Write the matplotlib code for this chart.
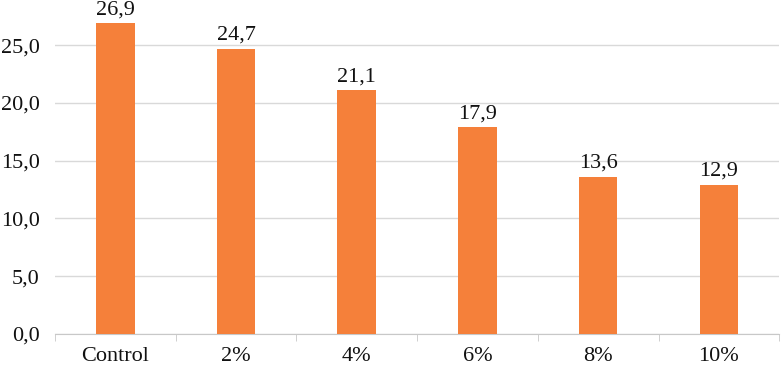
import matplotlib
matplotlib.use('agg')
import matplotlib.pyplot as plt
import numpy as np

categories = ["Control", "2%", "4%", "6%", "8%", "10%"]
values = [26.9, 24.7, 21.1, 17.9, 13.6, 12.9]
y_ticks = [0, 5, 10, 15, 20, 25]

plt.rcParams['font.family'] = ['Liberation Serif', 'DejaVu Serif']

fig = plt.figure(figsize=(7.83, 3.66), dpi=100)
ax = fig.add_axes([0.0702, 0.0874, 0.925, 0.9126])

x = np.arange(len(categories))
bars = ax.bar(x, values, width=0.32, color='#F5803A', zorder=3)
for xi, v in zip(x, values):
    ax.text(xi, v + 0.35, f"{v:.1f}".replace('.', ','), ha='center', va='bottom',
            fontsize=16, color='#111111', clip_on=False)

ax.set_xlim(-0.5, len(categories) - 0.5)
ax.set_ylim(0, 28.9)
ax.set_yticks(y_ticks)
ax.set_yticklabels([f"{t:.1f}".replace('.', ',') for t in y_ticks])
ax.set_xticks(x)
ax.set_xticklabels(categories)
ax.set_xticks(np.arange(len(categories) + 1) - 0.5, minor=True)

ax.grid(axis='y', color='#d9d9d9', linewidth=1, zorder=0)
for s in ['top', 'right', 'left']:
    ax.spines[s].set_visible(False)
ax.spines['bottom'].set_color('#c8c8c8')
ax.tick_params(axis='y', length=0, labelsize=16, pad=11, labelcolor='#111111')
ax.tick_params(axis='x', which='major', length=0, labelsize=16, pad=9, labelcolor='#111111')
ax.tick_params(axis='x', which='minor', length=5, color='#c8c8c8')

fig.savefig('out.png', dpi=100)
